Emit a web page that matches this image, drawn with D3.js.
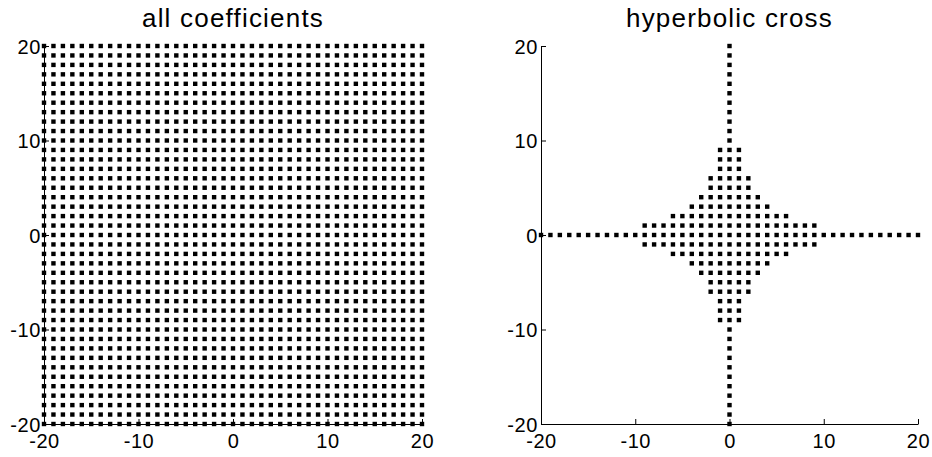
<!DOCTYPE html>
<html>
<head>
<meta charset="utf-8">
<script src="https://cdn.jsdelivr.net/npm/d3@7"></script>
<style>
  body { margin: 0; background: #fff; }
  text { font-family: "Liberation Sans", Arial, sans-serif; fill: #000; }
</style>
</head>
<body>
<svg width="932" height="457"></svg>
<script>
// coefficient indices in each direction
const indices = d3.range(-20, 21)
const ticks = [-20, -10, 0, 10, 20]
const titles = ["all coefficients", "hyperbolic cross"]
// half-width of the hyperbolic cross for row |k2| = 0,1,2,...,20
const crossHalfWidth = [20, 9, 6, 4, 3, 2, 2, 1, 1, 1, 0, 0, 0, 0, 0, 0, 0, 0, 0, 0, 0]

const allPoints = []
indices.forEach(i => indices.forEach(j => allPoints.push([i, j])))

const crossPoints = []
indices.forEach(j => {
  const w = crossHalfWidth[Math.abs(j)]
  indices.filter(i => Math.abs(i) <= w).forEach(i => crossPoints.push([i, j]))
})

const svg = d3.select("svg")
const panels = [
  {left: 44, right: 422, data: allPoints},
  {left: 541, right: 918, data: crossPoints}
]
const plotTop = 46, plotBottom = 424

panels.forEach((p, k) => {
  const x = d3.scaleLinear().domain([-20, 20]).range([p.left, p.right])
  const y = d3.scaleLinear().domain([-20, 20]).range([plotBottom, plotTop])
  const g = svg.append("g")

  // points
  g.selectAll("rect.pt")
    .data(p.data)
    .enter().append("rect")
    .attr("class", "pt")
    .attr("x", d => x(d[0]) - 2.2)
    .attr("y", d => y(d[1]) - 2.2)
    .attr("width", 4.4)
    .attr("height", 4.4)
    .attr("fill", "#000")

  // axes with inward ticks, plain hyphen minus like matlab
  const fmt = d => String(d)
  const xAxis = g.append("g")
    .attr("transform", `translate(0,${plotBottom})`)
    .call(d3.axisBottom(x).tickValues(ticks).tickFormat(fmt).tickSizeInner(-5).tickSizeOuter(0).tickPadding(9))
  const yAxis = g.append("g")
    .attr("transform", `translate(${p.left},0)`)
    .call(d3.axisLeft(y).tickValues(ticks).tickFormat(fmt).tickSizeInner(-5).tickSizeOuter(0).tickPadding(3))

  ;[xAxis, yAxis].forEach(a => {
    a.select(".domain").attr("stroke", "#000").attr("stroke-width", 1)
    a.selectAll(".tick line").attr("stroke", "#000")
    a.selectAll("text").attr("font-size", "20px")
      .attr("letter-spacing", "0.6px")
      .attr("font-family", "Liberation Sans, Arial, sans-serif")
  })
  xAxis.selectAll("text").attr("dy", "0.75em")
  yAxis.selectAll("text").attr("dy", "0.36em")

  g.append("text")
    .attr("x", (p.left + p.right) / 2)
    .attr("y", 27)
    .attr("text-anchor", "middle")
    .attr("font-size", "26px")
    .attr("letter-spacing", "1.2px")
    .text(titles[k])
})
</script>
</body>
</html>
